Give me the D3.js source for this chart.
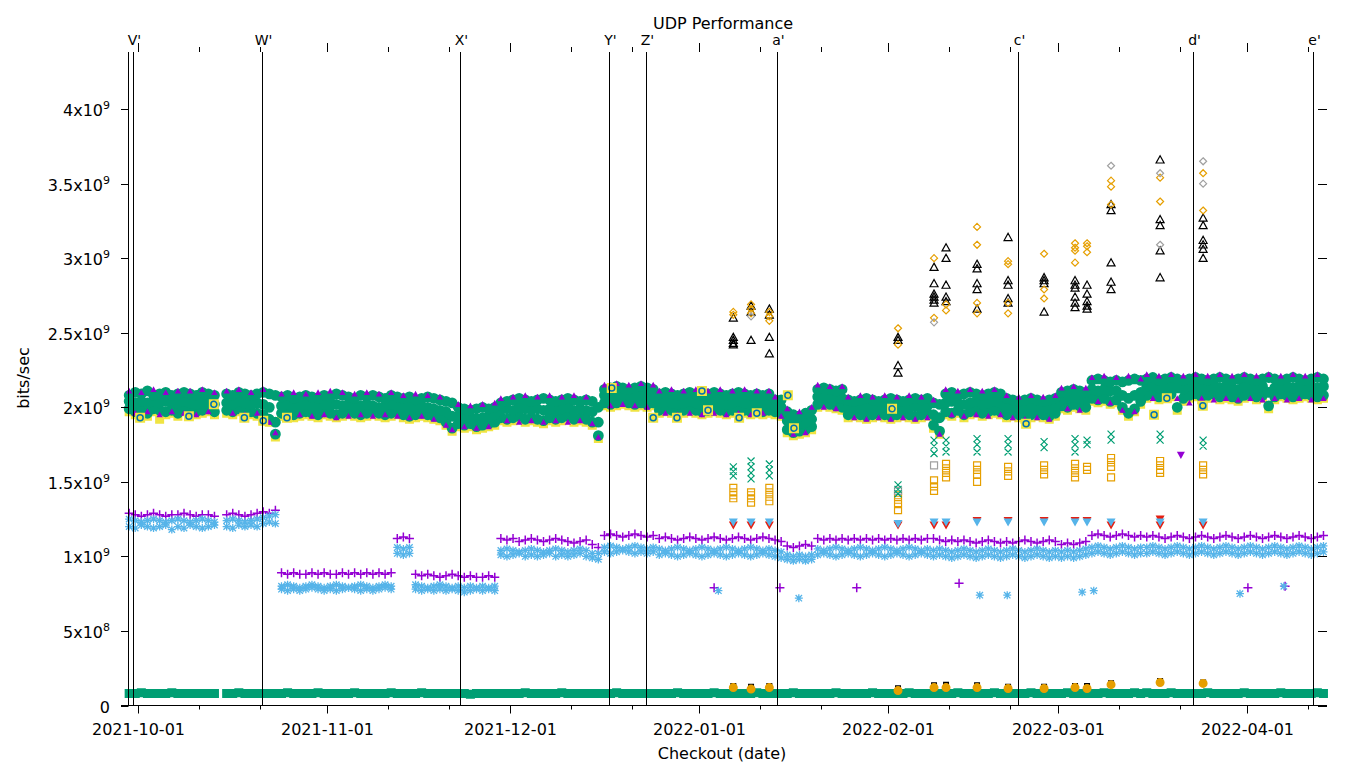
<!DOCTYPE html>
<html><head><meta charset="utf-8">
<script src="https://cdn.jsdelivr.net/npm/d3@7"></script>
<style>body{margin:0;background:#fff}svg{display:block}text{font-family:"DejaVu Sans",sans-serif;fill:#000}</style>
</head><body><svg id="c" width="1360" height="768"></svg>
<script>
// ---------- DATA (values in units of 10^7 bits/sec) ----------
// daily checkouts, day offset from 2021-10-01 of the first run
const firstRunDay = -1.5;
const runCount = 197;

const grnHi = [208,210,209,211,208,209,210,208,209,210,209,208,210,209,208, null,
 209,208,210,209,208,209, 210,209,208,
 207,208,206,207,208,207,206,208,207,209,208,207,206,208,207,208,207,206,208,207,
 206,207,205,206,207,206,205,204,203, 200,199,198,199,200,199,200,
 203,204,205,206,205,204,205,206,205,204,205,206,205,204,205,204, 200,
 212,213,214,213,212,213,214,213,212,
 209,210,209,208,209,210,209,208,209,210,209,208,209,210,209,208,209,208,209,
 205,205, 197,195,194,196,198, 212,213,212,211,212,
 205,204,205,206,205,204,205,206,205,204,205,206,205,206, 203,202,
 209,210,208,209,210,209,208,209,210,209, 206,205,204,205,206,205,204,205,206,
 210,211,212,211,210, 218,219,218,217,218,217,218,219,218,
 219,220,218,219,220,219,218,219,220,219,218,219,220,219,218,219,220,219,218,219,220,219,218,219,220,219,218,219,220,219];
const grnMid = [204,203,204,203,204,203,204,202,203,204,203,202,204,203,202, null,
 203,202,204,203,202,203, 202,200,190,
 201,202,200,201,202,201,200,202,201,202,201,202,200,201,202,201,200,201,202,201,
 200,201,200,201,200,199,198,197,194, 194,193,193,192,193,194,195,
 198,199,198,200,199,198,199,198,199,198,199,200,198,199,198,197, 190,
 208,207,208,209,208,207,208,207,208,
 203,204,203,202,203,204,203,202,203,204,203,202,203,204,203,202,203,202,203,
 201,200, 191,189,189,190,192, 207,208,207,206,206,
 200,199,200,201,200,199,200,201,200,199,200,201,200,201, 195,193,
 203,204,203,202,203,204,202,203,204,203, 200,201,200,199,200,201,200,199,201,
 205,206,207,206,205, 212,211,212,211,211,208,206,208,210,
 214,215,213,214,215,213,212,214,215,213,214,215,213,214,213,212,214,215,213,214,210,213,215,214,213,214,215,214,213,214];
const grnLo = [199,197,198,196,199,198,197,198,196,199,198,197,198,199,197, null,
 198,197,199,198,197,196, 195,192,182,
 196,197,195,196,197,196,195,197,196,195,196,197,196,195,196,197,196,195,196,197,
 195,194,195,196,195,194,193,190,186, 189,188,189,187,188,189,190,
 193,192,193,194,192,193,192,191,193,192,193,194,192,193,192,190, 181,
 203,202,203,204,203,202,203,202,203,
 198,199,198,197,198,199,198,197,198,199,198,197,198,199,198,197,198,197,198,
 197,196, 185,183,184,185,187, 202,203,202,201,200,
 195,196,195,194,195,196,195,194,195,196,195,194,195,196, 188,184,
 197,196,198,195,197,198,196,197,198,197, 195,196,195,194,195,196,195,194,196,
 201,200,202,201,200, 206,205,206,204,205,200,196,199,204,
 208,209,207,208,209,200,206,208,209,207,208,209,207,208,207,206,208,209,207,208,201,207,209,208,207,208,209,208,207,208];
const purpleBand = [211,196,210,197,212,195,210,197,211,196,211,195,212,197,210, null,
 211,196,212,195,210,196, 212,190,183,
 209,194,210,195,209,194,210,195,211,193,210,194,209,195,210,194,209,195,210,194,
 208,193,209,194,208,192,207,188,185, 202,187,201,186,202,187,203,
 206,191,207,190,208,191,207,190,208,191,207,190,208,191,207,189, 180,
 215,201,216,202,215,201,216,200,215,
 211,196,212,195,211,196,212,195,211,196,212,195,211,196,212,195,211,196,211,
 207,194, 199,182,197,183,200, 215,200,214,199,214,
 207,193,208,192,207,193,208,192,207,193,208,192,207,193, 205,182,
 212,195,211,194,212,195,211,194,212,195, 208,193,207,192,208,193,207,192,208,
 213,199,214,198,213, 220,204,221,203,220,198,221,197,219,
 222,206,221,205,222,206,221,203,222,206,221,205,222,206,221,205,222,206,221,205,222,206,221,205,222,206,221,205,222,206];
const yellowBand = [197,195,196,194,197,192,195,196,194,197,196,195,196,197,195, null,
 196,195,197,196,195,194, 193,190,180,
 194,195,193,194,195,194,193,195,194,193,194,195,194,193,194,195,194,193,194,195,
 193,192,193,194,193,192,191,188,184, 187,186,187,185,186,187,188,
 191,190,191,192,190,191,190,189,191,190,191,192,190,191,190,188, 179,
 201,200,201,202,201,200,201,200,201,
 196,197,196,195,196,197,196,195,196,197,196,195,196,197,196,195,196,195,196,
 195,194, 183,181,182,183,185, 200,201,200,199,198,
 193,194,193,192,193,194,193,192,193,194,193,192,193,194, 186,182,
 195,194,196,193,195,196,194,195,196,195, 193,194,193,192,193,194,193,192,194,
 199,198,200,199,198, 204,203,204,202,203,198,194,197,202,
 206,207,205,206,207,198,204,206,207,205,206,207,205,206,205,204,206,207,205,206,199,205,207,206,205,206,207,206,205,206];
const purplePlus = [129,128,127,128,129,128,127,128,128,129,128,127,128,128,127, null,
 128,129,128,127,128,129,130,129, 131,
 89,88,89,88,88,89,88,89,88,88,89,88,89,88,89,88,89,88,89,
 112,113,112,
 88,87,88,87,86,87,88,87,86,87,86,86,87,86,
 112,111,112,110,111,112,111,110,111,112,111,110,109,110,111,108, 106,
 114,115,114,113,114,115,114,113,114,
 112,113,112,111,112,113,112,111,112,113,112,111,112,113,112,111,112,113,112,
 111,110, 107,106,107,108,107,
 112,111,112,111,112,111,112,111,112,111,112,111,112,111,112,111,112,111,112,
 112,111,110,111,110,111,110,109,110,111,110,109,110,109,110,111,110,109,110,111,110,
 108,109,108,109,110, 114,115,114,113,114,115,114,113,114,
 113,114,113,112,113,114,113,112,113,114,113,112,113,114,113,112,113,114,113,112,113,114,113,112,113,114,113,112,113,114];
const lightBlueA = [125,124,123,124,125,124,123,124,125,124,123,124,125,124,123, null,
 124,125,124,123,124,125,126,127, 128,
 80,81,80,79,80,81,80,79,80,81,80,79,80,81,80,79,80,81,80,
 106,105,106,
 81,80,79,80,81,80,79,80,79,80,79,80,79,80,
 104,105,104,103,104,105,104,103,104,105,104,103,104,105,104,102, 102,
 106,107,106,105,106,107,106,105,106,
 105,104,105,106,105,104,105,106,105,104,105,106,105,104,105,106,105,104,105,
 104,103, 101,100,101,100,101,
 105,104,105,106,105,104,105,106,105,104,105,106,105,104,105,106,105,104,105,
 104,105,104,103,104,105,104,103,104,105,104,103,104,105,104,103,104,105,104,103,104,
 103,104,103,104,105, 106,107,106,105,106,107,106,105,106,
 106,107,106,105,106,107,106,105,106,107,106,105,106,107,106,105,106,107,106,105,106,107,106,105,106,107,106,105,106,107];
const lightBlueB = [120,119,121,120,119,120,121,118,120,119,121,120,119,120,121, null,
 120,119,121,120,121,120,122,123, 122,
 78,77,78,77,78,79,78,77,78,77,78,79,78,77,78,77,78,79,78,
 102,101,102,
 78,77,78,77,78,77,78,77,76,77,78,77,78,77,
 101,100,101,102,100,101,100,101,102,100,101,100,101,102,100,99, 98,
 103,102,103,104,103,102,103,102,103,
 101,102,101,100,101,102,101,100,101,102,101,100,101,102,101,100,101,102,101,
 100,99, 98,97,98,97,98,
 101,102,101,100,101,102,101,100,101,102,101,100,101,102,101,100,101,102,101,
 100,101,100,99,100,101,100,99,100,101,100,99,100,101,100,99,100,101,100,99,100,
 99,100,99,100,101, 102,103,102,101,102,103,102,101,102,
 102,103,102,101,102,103,102,101,102,103,102,101,102,103,102,101,102,103,102,101,102,103,102,101,102,103,102,101,102,103];
const greenBottom = [8,8,8.5,8,8,8,8,8.5,8,8,8,8,8,8,8, null,
 8,8,8.5,8,8,8, 8,8,8,
 8,8.5,8,8,8,8,8.5,8,8,8,8,8,8.5,8,8,8,8,8,8.5,8,
 8,8,8,8.5,8,8,8,8,8, 8,8,7.5,8,8,8,8,
 8,8,8,8,8.5,8,8,8,8,8,8.5,8,8,8,8,8, 8,
 8,8,8.5,8,8,8,8,8,8,
 8,8,8,8.5,8,8,8,8,8,8.5,8,8,8,8,8,8,8.5,8,8,
 8,8, 8,8.5,8,8,8, 8,8,8,8.5,8,
 8,8,8,8,8.5,8,8,8,8,8,8.5,8,8,8, 8,8,
 8,8,8.5,8,8,8,8,8,8.5,8, 8,8,8,8,8.5,8,8,8,8,
 8,8.5,8,8,8, 8,8,8.5,8,8,8,8,8.5,8,
 8.5,8,8,8,8.5,8,8,8,8,8,8.5,8,8,8,8,8,8.5,8,8,8,8,8,8.5,8,8,8,8,8,8.5,8];
// runs whose two filled-square / open-circle series left the band
const outlierDays = [0.3,8.3,12.4,17.4,20.5,24.4,77.7,84.5,88.4,92.5,93.5,98.6,101.5,106.6,107.6,123.7,145.7,166.7,168.8,174.7];
const outlierVals = [193,194,202,193,191,193,213,193,193,211,198,193,196,208,186,199,189,195,206,201];
const purpleOutDays = [94.5,105.3,117.9,134.7,182.1,188.2];
const purpleOutVals = [79,79,79,82,79,80];
const lightBlueOutDays = [95.2,108.4,138.1,142.6,154.9,156.8,180.8,188.0];
const lightBlueOutVals = [77,72,74,74,76,77,75,80];
const purpleTriOutDays = [171.1];
const purpleTriOutVals = [168];

// special runs with extra tests
const specialDays = [97.65,100.56,103.56,124.68,130.59,132.56,137.65,142.74,148.65,153.73,155.7,159.64,167.69,174.75];
const blackTri = [[260,247,245,243,242],[268,264,245],[266,262,247,236],[247,245,228,223],[294,283,276,274,272,270],
 [307,300,282,274,271],[296,293,283,279,266],[314,285,282,273,270],[287,285,283,264],[285,282,280,274,270,267],
 [282,276,271,268,266],[336,332,297,284,279],[366,326,322,305,287],[327,322,312,309,306,300]];
const orangeDia = [[264,262],[269,266,263],[264,261,258],[253,242],[300,260],[269,265],[321,309,270,263],
 [298,296,270,263],[303,279,273],[310,307,305,297],[310,308,304],[352,348,336],[354,338],[357,332]];
const grayDia = [[],[261],[],[],[257],[],[],[],[],[],[],[362],[357,309],[365,350]];
const orangeSq = [[146,143,141,139],[143,141,139,136],[146,143,140,137],[141,138,135,131],[151,147,144],[162,159,156,153],
 [161,158,155,150],[160,157,154],[161,158,155],[162,159,156,153],[160,158],[166,163,160,153],[164,161,158,156],[161,158,155]];
const graySq = [[],[],[],[144],[161],[],[],[],[],[],[],[],[],[]];
const tealX = [[160,157,154],[164,160,156,152],[162,158,154],[148,145,142],[178,174,169],[178,174,170],[179,175,170],
 [179,175,170],[177,173],[179,175,170],[178,175],[182,178],[182,178],[178,174]];
const redTri = [[121],[121],[121],[121],[121],[121],[124],[124],[124],[124],[124],[121],[125,121],[121]];
const lightBlueTri = [[123],[123],[123],[122],[123],[123],[123],[123],[123],[123],[123],[123],[123],[123]];
const blackLow = [[13],[12.5],[13],[11.5],[13.5],[14],[13.5],[12.5],[12.5],[13],[13],[15],[16.5],[15.5]];
const orangeLow = [[12],[11],[12],[10],[12],[12],[12],[11.4],[11.4],[12],[11.4],[14],[15.4],[14.8]];

// version tags
const tagNames = ["V'","W'","X'","Y'","Z'","a'","c'","d'","e'"];
const tagDays = [-0.82,20.35,52.85,77.2,83.36,104.8,144.33,173.17,192.85];

const yTicks = [0,50,100,150,200,250,300,350,400];
const yTickLabels = ["0","5x10^8","1x10^9","1.5x10^9","2x10^9","2.5x10^9","3x10^9","3.5x10^9","4x10^9"];
const xTickMonths = ["2021-10-01","2021-11-01","2021-12-01","2022-01-01","2022-02-01","2022-03-01","2022-04-01"];

// ---------- DRAW ----------
const C = {purple:"#9400d3", green:"#009e73", lblue:"#56b4e9", orange:"#e69f00", yellow:"#f0e442", blue:"#0072b2", red:"#e51e10", gray:"#a0a0a0", black:"#000"};
const L = {left:128.5, right:1327, top:52, bottom:705.5};
const svg = d3.select("#c");
const t0 = Date.UTC(2021,9,1);
const dayDate = d => new Date(t0 + d*864e5);
const x = d3.scaleUtc().domain([new Date(t0), new Date(Date.UTC(2022,3,1))]).range([138.3,1247.3]);
const y = d3.scaleLinear().domain([0,400]).range([L.bottom, L.bottom-400*1.491]);

const sh = {
  plus:(cx,cy,s)=>`M${cx-s},${cy}h${2*s}M${cx},${cy-s}v${2*s}`,
  cross:(cx,cy,s)=>`M${cx-s},${cy-s}l${2*s},${2*s}M${cx-s},${cy+s}l${2*s},${-2*s}`,
  star:(cx,cy,s)=>`M${cx-s},${cy}h${2*s}M${cx},${cy-s}v${2*s}M${cx-s*.8},${cy-s*.8}l${1.6*s},${1.6*s}M${cx-s*.8},${cy+s*.8}l${1.6*s},${-1.6*s}`,
  square:(cx,cy,s)=>`M${cx-s},${cy-s}h${2*s}v${2*s}h${-2*s}z`,
  triUp:(cx,cy,s)=>`M${cx},${cy-s}L${cx+s},${cy+s*.8}L${cx-s},${cy+s*.8}z`,
  triDown:(cx,cy,s)=>`M${cx},${cy+s}L${cx+s},${cy-s*.8}L${cx-s},${cy-s*.8}z`,
  diamond:(cx,cy,s)=>`M${cx},${cy-s}L${cx+s},${cy}L${cx},${cy+s}L${cx-s},${cy}z`,
  circle:(cx,cy,r)=>`M${cx-r},${cy}a${r},${r} 0 1,0 ${2*r},0a${r},${r} 0 1,0 ${-2*r},0`
};
const g = svg.append("g");
function draw(pts, shape, s, style){
  const d = pts.filter(p=>p[1]!=null).map(p=>sh[shape](x(dayDate(p[0])), y(p[1]), s)).join("");
  const p = g.append("path").attr("d", d);
  if(style.fill){ p.attr("fill", style.fill).attr("stroke", style.stroke||"none").attr("stroke-width", style.sw||0); }
  else { p.attr("fill","none").attr("stroke", style.stroke).attr("stroke-width", style.sw||1); }
}
const runPts = arr => arr.map((v,i)=>[firstRunDay+i, v]);
const pairPts = (days, vals) => days.map((d,i)=>[d, vals[i]]);
const clusterPts = arr => arr.flatMap((vs,i)=>vs.map(v=>[specialDays[i], v]));

// main ~2e9 band
draw(runPts(yellowBand), "square", 4.5, {fill:C.yellow});
draw(runPts(grnLo), "circle", 5.4, {fill:C.green});
draw(runPts(grnMid), "circle", 5.4, {fill:C.green});
draw(runPts(grnHi), "circle", 5.4, {fill:C.green});
draw(runPts(purpleBand), "triUp", 3.2, {fill:C.purple});
draw(pairPts(outlierDays,outlierVals), "square", 5, {fill:C.yellow});
draw(pairPts(outlierDays,outlierVals), "circle", 3, {stroke:C.blue, sw:1.5});
draw(pairPts(purpleTriOutDays,purpleTriOutVals), "triDown", 4, {fill:C.purple});
// lower band
draw(runPts(purplePlus), "plus", 4.5, {stroke:C.purple, sw:1.5});
draw(runPts(lightBlueA), "star", 4, {stroke:C.lblue, sw:1.3});
draw(runPts(lightBlueB), "star", 4, {stroke:C.lblue, sw:1.3});
draw(pairPts(purpleOutDays,purpleOutVals), "plus", 4.5, {stroke:C.purple, sw:1.5});
draw(pairPts(lightBlueOutDays,lightBlueOutVals), "star", 4, {stroke:C.lblue, sw:1.3});
// bottom band
draw(runPts(greenBottom), "square", 4.5, {fill:C.green});
// special runs
draw(clusterPts(orangeSq), "square", 3.5, {stroke:C.orange, sw:1.2});
draw(clusterPts(graySq), "square", 3.5, {stroke:C.gray, sw:1.2});
draw(clusterPts(tealX), "cross", 3.5, {stroke:C.green, sw:1.2});
draw(clusterPts(redTri), "triDown", 4.5, {fill:C.red});
draw(clusterPts(lightBlueTri), "triDown", 4.5, {fill:C.lblue});
draw(clusterPts(blackTri), "triUp", 4, {stroke:C.black, sw:1.2});
draw(clusterPts(orangeDia), "diamond", 3.5, {stroke:C.orange, sw:1.2});
draw(clusterPts(grayDia), "diamond", 3.5, {stroke:C.gray, sw:1.2});
draw(clusterPts(blackLow), "square", 3, {fill:C.black});
draw(clusterPts(orangeLow), "circle", 4.5, {fill:C.orange});

// tag lines
const tags = svg.append("g");
tagDays.forEach((d,i)=>{
  const px = Math.round(x(dayDate(d)))+0.5;
  tags.append("line").attr("x1",px).attr("x2",px).attr("y1",L.top).attr("y2",L.bottom).attr("stroke","#000").attr("stroke-width",1);
  tags.append("text").attr("x",px+1).attr("y",45).attr("text-anchor","middle").attr("font-size",14).text(tagNames[i]);
});

// axes
const ax = svg.append("g").attr("stroke","#000").attr("stroke-width",1);
ax.append("line").attr("x1",L.left).attr("x2",L.left).attr("y1",L.top).attr("y2",L.bottom);
ax.append("line").attr("x1",121).attr("x2",L.right).attr("y1",L.bottom).attr("y2",L.bottom);
yTicks.forEach((v,i)=>{
  const py = Math.round(y(v))+0.5;
  ax.append("line").attr("x1",121).attr("x2",L.left).attr("y1",py).attr("y2",py);
  ax.append("line").attr("x1",1318).attr("x2",L.right).attr("y1",py).attr("y2",py);
  const lab = yTickLabels[i];
  const t = svg.append("text").attr("x",110).attr("y",py+6).attr("text-anchor","end").attr("font-size",16);
  if(lab.includes("^")){
    const [m,e] = lab.split("^");
    t.append("tspan").text(m);
    t.append("tspan").attr("dy",-7).attr("font-size",11).text(e);
  } else t.text(lab);
});
const monthDates = xTickMonths.map(s=>new Date(s+"T00:00:00Z"));
const minorDates = d3.utcMonth.range(new Date(Date.UTC(2021,9,1)), new Date(Date.UTC(2022,4,1)))
  .flatMap(m=>[10,20].map(k=>new Date(+m + k*864e5))).filter(d=>x(d)<L.right);
monthDates.forEach((d,i)=>{
  const px = Math.round(x(d))+0.5;
  ax.append("line").attr("x1",px).attr("x2",px).attr("y1",L.bottom).attr("y2",L.bottom+8);
  ax.append("line").attr("x1",px).attr("x2",px).attr("y1",L.top).attr("y2",L.top-9);
  svg.append("text").attr("x",px).attr("y",735).attr("text-anchor","middle").attr("font-size",16).text(xTickMonths[i]);
});
minorDates.forEach(d=>{
  const px = Math.round(x(d))+0.5;
  ax.append("line").attr("x1",px).attr("x2",px).attr("y1",L.bottom).attr("y2",L.bottom+4);
  ax.append("line").attr("x1",px).attr("x2",px).attr("y1",L.top).attr("y2",L.top-5);
});
svg.append("text").attr("x",723).attr("y",29).attr("text-anchor","middle").attr("font-size",16).text("UDP Performance");
svg.append("text").attr("x",722).attr("y",759).attr("text-anchor","middle").attr("font-size",16).text("Checkout (date)");
svg.append("text").attr("transform","translate(29,378) rotate(-90)").attr("text-anchor","middle").attr("font-size",16).text("bits/sec");
</script></body></html>
